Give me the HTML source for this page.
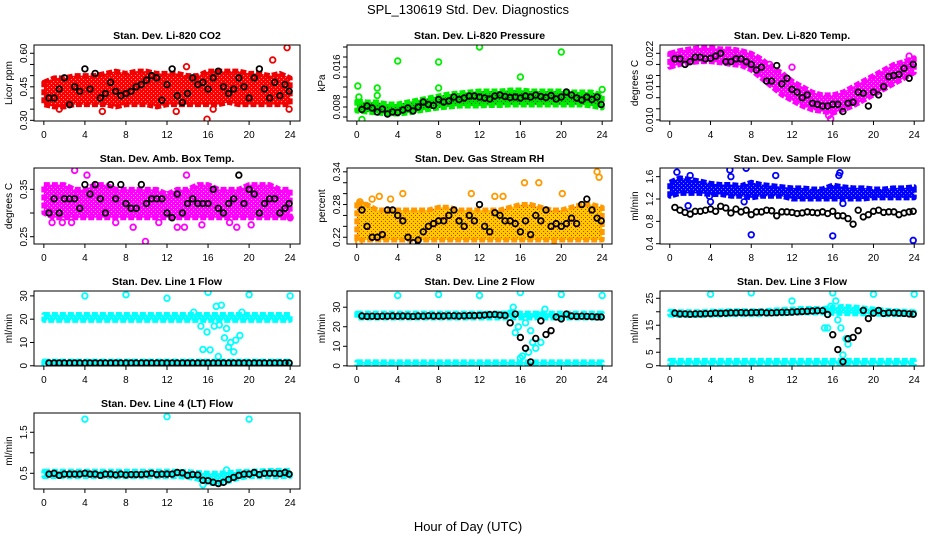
<!DOCTYPE html>
<html><head><meta charset="utf-8"><style>
html,body{margin:0;padding:0;background:#fff;}
svg{display:block;font-family:"Liberation Sans",sans-serif;}
</style></head><body>
<svg id="chart" width="936" height="540" viewBox="0 0 936 540" xmlns="http://www.w3.org/2000/svg">
<text x="468" y="14" text-anchor="middle" font-size="13">SPL_130619  Std. Dev. Diagnostics</text>
<text x="468" y="531" text-anchor="middle" font-size="13">Hour of Day (UTC)</text>
</svg>
<script>
const hours = [0,1,2,3,4,5,6,7,8,9,10,11,12,13,14,15,16,17,18,19,20,21,22,23,24];
const xTicks = [0,4,8,12,16,20,24];
const blackX = [0.5,1,1.5,2,2.5,3,3.5,4,4.5,5,5.5,6,6.5,7,7.5,8,8.5,9,9.5,10,10.5,11,11.5,12,12.5,13,13.5,14,14.5,15,15.5,16,16.5,17,17.5,18,18.5,19,19.5,20,20.5,21,21.5,22,22.5,23,23.5,23.9];

const co2Low = [0.37,0.36,0.36,0.37,0.37,0.37,0.37,0.36,0.37,0.37,0.37,0.36,0.37,0.37,0.37,0.37,0.37,0.37,0.38,0.37,0.37,0.37,0.37,0.37,0.37];
const co2High = [0.47,0.49,0.49,0.50,0.50,0.50,0.51,0.52,0.51,0.52,0.52,0.51,0.51,0.51,0.50,0.50,0.52,0.52,0.52,0.52,0.51,0.51,0.50,0.51,0.49];
const co2OutX = [5.7,12.9,13.9,15.9,22.3,23.7,23.9,1.5,16.5];
const co2OutY = [0.34,0.34,0.54,0.305,0.57,0.625,0.35,0.35,0.35];
const co2Black = [0.40,0.40,0.44,0.49,0.37,0.45,0.43,0.53,0.44,0.51,0.40,0.42,0.47,0.43,0.41,0.42,0.43,0.45,0.46,0.48,0.50,0.49,0.39,0.46,0.53,0.41,0.38,0.42,0.49,0.46,0.47,0.44,0.49,0.52,0.45,0.42,0.44,0.49,0.45,0.40,0.49,0.53,0.44,0.40,0.47,0.41,0.46,0.43];

const presLow = [0.0072,0.0070,0.0068,0.0066,0.0066,0.0068,0.0072,0.0075,0.0078,0.0080,0.0082,0.0082,0.0082,0.0083,0.0083,0.0084,0.0084,0.0084,0.0084,0.0084,0.0084,0.0084,0.0084,0.0082,0.0078];
const presHigh = [0.0092,0.0090,0.0090,0.0086,0.0086,0.0090,0.0094,0.0098,0.0102,0.0106,0.0108,0.0110,0.0112,0.0112,0.0112,0.0114,0.0114,0.0112,0.0112,0.0112,0.0112,0.0110,0.0110,0.0110,0.0104];
const presOutX = [0.1,0.5,2,2,4,8,8,12,16,20,24,0.2];
const presOutY = [0.0122,0.0055,0.0118,0.0103,0.0172,0.0170,0.0118,0.0200,0.0140,0.0190,0.0115,0.0100];
const presBlack = [0.0075,0.0082,0.0078,0.0070,0.0076,0.0066,0.0070,0.0069,0.0074,0.0078,0.0072,0.0080,0.0090,0.0085,0.0083,0.0095,0.0090,0.0092,0.0100,0.0095,0.0098,0.0102,0.0102,0.0100,0.0098,0.0096,0.0102,0.0104,0.0101,0.0099,0.0100,0.0098,0.0102,0.0100,0.0104,0.0101,0.0099,0.0103,0.0096,0.0100,0.0110,0.0104,0.0098,0.0094,0.0100,0.0095,0.0100,0.0085];

const tempLow = [0.0195,0.0200,0.0203,0.0205,0.0205,0.0203,0.0200,0.0198,0.0190,0.0175,0.0160,0.0145,0.0135,0.0125,0.0118,0.0115,0.0112,0.0118,0.0125,0.0135,0.0145,0.0155,0.0165,0.0175,0.0185];
const tempHigh = [0.0220,0.0225,0.0228,0.0230,0.0230,0.0228,0.0228,0.0225,0.0220,0.0210,0.0195,0.0185,0.0170,0.0160,0.0150,0.0145,0.0145,0.0150,0.0160,0.0170,0.0180,0.0190,0.0200,0.0205,0.0212];
const tempOutX = [15.8,15.6,12.0,9.8,23.5,8.0];
const tempOutY = [0.0102,0.0108,0.0195,0.0200,0.0215,0.0198];
const tempBlack = [0.0210,0.0210,0.0200,0.0205,0.0213,0.0213,0.0210,0.0211,0.0215,0.0220,0.0205,0.0205,0.0210,0.0210,0.0205,0.0200,0.0190,0.0195,0.0170,0.0170,0.0198,0.0165,0.0175,0.0155,0.0150,0.0140,0.0145,0.0130,0.0128,0.0125,0.0125,0.0128,0.0128,0.0115,0.0130,0.0132,0.0150,0.0148,0.0125,0.0150,0.0145,0.0160,0.0178,0.0180,0.0182,0.0193,0.0175,0.0200];

const ambLow = [0.30,0.29,0.29,0.29,0.29,0.29,0.29,0.29,0.29,0.29,0.29,0.29,0.29,0.29,0.29,0.29,0.29,0.29,0.29,0.29,0.29,0.29,0.29,0.29,0.29];
const ambHigh = [0.36,0.36,0.36,0.35,0.35,0.36,0.36,0.35,0.35,0.35,0.35,0.35,0.34,0.35,0.35,0.36,0.36,0.35,0.35,0.35,0.36,0.36,0.36,0.35,0.35];
const ambOutX = [0.8,3.0,2.7,1.8,4.2,7.0,9.9,8.7,13.0,13.7,13.9,15.4,18.1,18.8,20.2,11.2,24.0];
const ambOutY = [0.28,0.39,0.28,0.28,0.38,0.28,0.24,0.27,0.27,0.27,0.38,0.275,0.28,0.27,0.275,0.28,0.29];
const ambBlack = [0.30,0.33,0.30,0.33,0.33,0.33,0.31,0.36,0.34,0.36,0.33,0.30,0.36,0.33,0.36,0.32,0.31,0.31,0.36,0.32,0.33,0.33,0.33,0.30,0.29,0.34,0.30,0.32,0.33,0.32,0.32,0.32,0.35,0.31,0.30,0.32,0.33,0.38,0.32,0.35,0.34,0.30,0.32,0.33,0.33,0.30,0.31,0.32];

const rhLow = [0.215,0.215,0.215,0.215,0.215,0.215,0.215,0.215,0.215,0.215,0.215,0.215,0.215,0.215,0.215,0.215,0.215,0.215,0.215,0.215,0.215,0.215,0.215,0.215,0.215];
const rhHigh = [0.285,0.28,0.27,0.27,0.27,0.27,0.27,0.27,0.275,0.275,0.27,0.27,0.27,0.27,0.27,0.275,0.28,0.28,0.275,0.27,0.27,0.275,0.28,0.28,0.275];
const rhOutX = [0.2,0.3,0.5,1.5,2.2,3.3,4.5,11.2,13.5,14.3,16.4,17.8,19.3,20.1,23.5,23.7];
const rhOutY = [0.21,0.285,0.28,0.29,0.295,0.29,0.30,0.30,0.295,0.295,0.32,0.32,0.205,0.30,0.34,0.33];
const rhBlack = [0.27,0.24,0.22,0.22,0.225,0.27,0.27,0.26,0.25,0.22,0.21,0.215,0.23,0.24,0.245,0.25,0.25,0.26,0.27,0.25,0.24,0.26,0.25,0.28,0.24,0.23,0.265,0.26,0.25,0.25,0.245,0.23,0.25,0.225,0.26,0.25,0.27,0.24,0.245,0.24,0.245,0.255,0.245,0.28,0.29,0.27,0.255,0.25];

const flowLow = [1.25,1.30,1.30,1.30,1.28,1.28,1.25,1.25,1.22,1.25,1.25,1.25,1.20,1.20,1.20,1.20,1.20,1.20,1.20,1.20,1.22,1.22,1.22,1.22,1.22];
const flowHigh = [1.50,1.58,1.55,1.52,1.48,1.46,1.46,1.44,1.50,1.46,1.44,1.42,1.40,1.40,1.38,1.38,1.45,1.42,1.40,1.40,1.38,1.38,1.40,1.40,1.42];
const flowOutX = [0.7,2.0,1.8,4,5.9,6.0,7.5,7.3,8.0,10.4,16.0,16.7,16.6,17.0,23.9,3.9];
const flowOutY = [1.68,1.62,1.08,1.15,1.72,1.60,1.75,1.15,0.56,1.62,0.54,1.67,1.62,1.12,0.46,1.25];
const flowBlack = [1.05,1.00,0.96,0.93,0.98,0.98,1.00,1.02,0.98,1.07,1.04,0.95,1.02,0.97,1.00,0.92,0.97,0.97,1.00,0.99,0.90,0.97,0.97,0.96,0.94,0.95,0.97,0.96,0.95,0.97,0.94,0.98,0.90,0.90,0.85,0.75,1.00,0.88,0.92,0.98,1.00,0.96,0.97,0.97,0.92,0.95,0.97,0.98];

const l1UpLow = [19.5,19.5,19.5,19.5,19.5,19.5,19.5,19.5,19.5,19.5,19.5,19.5,19.5,19.5,19.5,19.5,19.5,19.5,19.5,19.5,19.5,19.5,19.5,19.5,19.5];
const l1UpHigh = [22,22,22,22,22,22,22,22,22,22,22,22,22,22,22,22,22,22,22,22,22,22,22,22,22];
const lineBaseLow = [0.5,0.5,0.5,0.5,0.5,0.5,0.5,0.5,0.5,0.5,0.5,0.5,0.5,0.5,0.5,0.5,0.5,0.5,0.5,0.5,0.5,0.5,0.5,0.5,0.5];
const lineBaseHigh = [2,2,2,2,2,2,2,2,2,2,2,2,2,2,2,2,2,2,2,2,2,2,2,2,2];
const l1OutX = [4,8,12,16,20,24,14.6,15.3,15.5,15.9,16.2,16.8,17.3,17.0,17.6,17.8,18.0,18.2,18.5,18.7,19.1,19.3,17.1,16.6];
const l1OutY = [30,30.5,29,31.5,30.5,30,23,17,7,14.5,6.8,25.5,26,4,12,16,8,10,6,11,13,23,17.5,17];
const l1Black = [1.2,1.2,1.2,1.2,1.2,1.2,1.2,1.2,1.2,1.2,1.2,1.2,1.2,1.2,1.2,1.2,1.2,1.2,1.2,1.2,1.2,1.2,1.2,1.2,1.2,1.2,1.2,1.2,1.2,1.2,1.2,1.2,1.2,1.2,1.2,1.2,1.2,1.2,1.2,1.2,1.2,1.2,1.2,1.2,1.2,1.2,1.2,1.2];

const l2UpLow = [24.5,24.5,24.5,24.5,24.5,24.5,24.5,24.5,24.5,24.5,24.5,24.5,24.5,24.5,24.5,24.5,24.5,24.5,24.5,24.5,24.5,24.5,24.5,24.5,24.5];
const l2UpHigh = [27,27,27,27,27,27,27,27,27,27,27,27,27,27,27,27,27,27,27,27,27,27,27,27,27];
const l2OutX = [4,8,12,16,20,24,15,15.5,15.8,16.2,16.5,16.8,17.2,17.5,17.9,18.4,15.3,16.0,17.0,18.0];
const l2OutY = [36,36.5,36,37.5,36.5,36,27,17,20,5,22,7,12,9,26,29,30,4,18,12];
const l2Black = [25.5,25.3,25.4,25.3,25.4,25.4,25.5,25.4,25.5,25.4,25.3,25.5,25.4,25.6,25.5,25.5,25.5,25.6,25.6,25.5,25.6,25.7,25.7,25.8,26.0,26.2,26.3,26.0,25.8,22,26.5,14.5,9,2,14,23,16,18,25,24,26.5,25.5,25.3,25.4,25.3,25.2,25.0,25.0];

const l3UpLow = [18.8,18.6,18.6,18.6,18.8,18.8,19.0,19.0,19.0,19.0,19.2,19.2,19.4,19.6,19.6,19.6,19.4,19.4,19.2,19.2,19.2,19.0,19.0,19.0,18.8];
const l3UpHigh = [20.2,20.0,20.0,20.0,20.2,20.2,20.4,20.4,20.4,20.4,20.6,20.8,21.0,21.2,21.2,21.2,21.6,22.0,21.8,21.4,21.0,20.6,20.4,20.2,20.0];
const l3OutX = [4,8,12,16,20,24,15.8,15.5,16.3,16.5,17.0,17.5,17.3,15.2,16.8];
const l3OutY = [26.5,27,24,27,26.5,26.5,22,14,24,17,4,8,10,14,14];
const l3Black = [19.5,19.2,19.2,19.1,19.2,19.2,19.3,19.3,19.5,19.4,19.5,19.6,19.6,19.7,19.6,19.7,19.7,19.8,19.6,19.6,19.7,19.8,19.8,19.9,20.0,20.1,20.2,20.3,20.4,20.4,19,11.5,6,1.5,10,10.5,13,20.5,17.5,19.5,20.5,19.4,19.6,19.6,19.5,19.4,19.2,19.1];

const l4Low = [0.42,0.42,0.42,0.42,0.42,0.42,0.42,0.42,0.42,0.42,0.42,0.42,0.42,0.42,0.40,0.36,0.26,0.24,0.30,0.38,0.42,0.42,0.42,0.42,0.42];
const l4High = [0.55,0.55,0.55,0.55,0.55,0.55,0.55,0.55,0.55,0.55,0.55,0.55,0.55,0.55,0.54,0.52,0.50,0.50,0.52,0.54,0.55,0.56,0.57,0.57,0.57];
const l4OutX = [4,12,20,15.5,17.8];
const l4OutY = [1.82,1.88,1.82,0.22,0.58];
const l4Black = [0.48,0.50,0.45,0.48,0.48,0.48,0.48,0.50,0.48,0.48,0.45,0.48,0.48,0.46,0.48,0.46,0.47,0.47,0.47,0.48,0.50,0.47,0.48,0.48,0.48,0.52,0.51,0.45,0.47,0.46,0.33,0.32,0.28,0.25,0.28,0.35,0.40,0.45,0.48,0.48,0.52,0.47,0.50,0.50,0.50,0.49,0.52,0.48];

const co2Ticks=[0.30,0.35,0.40,0.45,0.50,0.55,0.60], co2Labels=["0.30","","","0.45","","","0.60"];
const presTicks=[0.006,0.008,0.010,0.012,0.014,0.016,0.018,0.020], presLabels=["","0.008","","","","0.016","",""];
const tempTicks=[0.010,0.012,0.014,0.016,0.018,0.020,0.022], tempLabels=["0.010","","","0.016","","","0.022"];
const ambTicks=[0.25,0.30,0.35], ambLabels=["0.25","","0.35"];
const rhTicks=[0.22,0.24,0.26,0.28,0.30,0.32,0.34], rhLabels=["0.22","","","0.28","","","0.34"];
const flowTicks=[0.4,0.8,1.2,1.6], flowLabels=["0.4","0.8","1.2","1.6"];
const l1Ticks=[0,10,20,30], l1Labels=["0","10","20","30"];
const l2Ticks=[0,10,20,30], l2Labels=["0","10","20","30"];
const l3Ticks=[0,5,10,15,20,25], l3Labels=["0","5","","15","","25"];
const l4Ticks=[0.5,1.0,1.5], l4Labels=["0.5","","1.5"];

const C1=[34,300], C2=[347,612], C3=[660,924];
const R1=[45,121], R2=[168,244], R3=[291,366], R4=[413,489];
const panels = [
 {id:'co2',title:'Stan. Dev. Li-820 CO2',ylab:'Licor ppm',c:C1,r:R1,ymin:0.297,ymax:0.637,ticks:co2Ticks,labels:co2Labels,fill:'#ff0000',dot:'#ff9090',edge:'#ee0000',bands:[[co2Low,co2High]],ox:co2OutX,oy:co2OutY,by:co2Black},
 {id:'pressure',title:'Stan. Dev. Li-820 Pressure',ylab:'kPa',c:C2,r:R1,ymin:0.0052,ymax:0.0204,ticks:presTicks,labels:presLabels,fill:'#00dd00',dot:'#006600',edge:'#00ee00',bands:[[presLow,presHigh]],ox:presOutX,oy:presOutY,by:presBlack},
 {id:'temp',title:'Stan. Dev. Li-820 Temp.',ylab:'degrees C',c:C3,r:R1,ymin:0.0098,ymax:0.0235,ticks:tempTicks,labels:tempLabels,fill:'#ff00ff',dot:'#ffa0ff',edge:'#ff00ff',bands:[[tempLow,tempHigh]],ox:tempOutX,oy:tempOutY,by:tempBlack},
 {id:'amb-box',title:'Stan. Dev. Amb. Box Temp.',ylab:'degrees C',c:C1,r:R2,ymin:0.2346,ymax:0.395,ticks:ambTicks,labels:ambLabels,fill:'#ff00ff',dot:'#ffa0ff',edge:'#ff00ff',bands:[[ambLow,ambHigh]],ox:ambOutX,oy:ambOutY,by:ambBlack},
 {id:'rh',title:'Stan. Dev. Gas Stream RH',ylab:'percent',c:C2,r:R2,ymin:0.2076,ymax:0.347,ticks:rhTicks,labels:rhLabels,fill:'#ffcc00',dot:'#ff2000',edge:'#ff9900',bands:[[rhLow,rhHigh]],ox:rhOutX,oy:rhOutY,by:rhBlack},
 {id:'sample-flow',title:'Stan. Dev. Sample Flow',ylab:'ml/min',c:C3,r:R2,ymin:0.395,ymax:1.755,ticks:flowTicks,labels:flowLabels,fill:'#0000ff',dot:'#8080ff',edge:'#0000ff',bands:[[flowLow,flowHigh]],ox:flowOutX,oy:flowOutY,by:flowBlack},
 {id:'line1',title:'Stan. Dev. Line 1 Flow',ylab:'ml/min',c:C1,r:R3,ymin:-0.1,ymax:32.1,ticks:l1Ticks,labels:l1Labels,fill:'#00ffff',dot:'#a0ffff',edge:'#00ffff',bands:[[l1UpLow,l1UpHigh],[lineBaseLow,lineBaseHigh]],ox:l1OutX,oy:l1OutY,by:l1Black},
 {id:'line2',title:'Stan. Dev. Line 2 Flow',ylab:'ml/min',c:C2,r:R3,ymin:-0.1,ymax:38.3,ticks:l2Ticks,labels:l2Labels,fill:'#00ffff',dot:'#a0ffff',edge:'#00ffff',bands:[[l2UpLow,l2UpHigh],[lineBaseLow,lineBaseHigh]],ox:l2OutX,oy:l2OutY,by:l2Black},
 {id:'line3',title:'Stan. Dev. Line 3 Flow',ylab:'ml/min',c:C3,r:R3,ymin:-0.1,ymax:27.7,ticks:l3Ticks,labels:l3Labels,fill:'#00ffff',dot:'#a0ffff',edge:'#00ffff',bands:[[l3UpLow,l3UpHigh],[lineBaseLow,lineBaseHigh]],ox:l3OutX,oy:l3OutY,by:l3Black},
 {id:'line4',title:'Stan. Dev. Line 4 (LT) Flow',ylab:'ml/min',c:C1,r:R4,ymin:0.117,ymax:1.97,ticks:l4Ticks,labels:l4Labels,fill:'#00ffff',dot:'#a0ffff',edge:'#00ffff',bands:[[l4Low,l4High]],ox:l4OutX,oy:l4OutY,by:l4Black}
];
const NS='http://www.w3.org/2000/svg';
const svg=document.getElementById('chart');
function mk(tag,attrs,parent){const e=document.createElementNS(NS,tag);for(const k in attrs)e.setAttribute(k,attrs[k]);parent.appendChild(e);return e;}
const defs=mk('defs',{},svg);
panels.forEach(p=>{
 const x0=p.c[0],x1=p.c[1],y0=p.r[0],y1=p.r[1];
 const sx=v=>x0+(v+0.96)/25.92*(x1-x0);
 const sy=v=>y1-(v-p.ymin)/(p.ymax-p.ymin)*(y1-y0);
 const pat=mk('pattern',{id:'pat-'+p.id,width:4,height:4,patternUnits:'userSpaceOnUse'},defs);
 mk('rect',{x:0,y:0,width:4,height:4,fill:p.fill},pat);
 mk('rect',{x:1,y:1,width:1,height:1,fill:p.dot},pat);
 mk('rect',{x:3,y:3,width:1,height:1,fill:p.dot},pat);
 const g=mk('g',{},svg);
 
 
 const clipId='clip-'+p.id;
 const cp=mk('clipPath',{id:clipId},g);
 mk('rect',{x:x0,y:y0,width:x1-x0,height:y1-y0},cp);
 const t=mk('text',{x:(x0+x1)/2,y:y0-6,'text-anchor':'middle','font-size':'10.5','font-weight':'bold'},g);
 t.textContent=p.title;
 
 
 const yl=mk('text',{x:0,y:0,'text-anchor':'middle','font-size':'10',transform:`translate(${x0-22},${(y0+y1)/2}) rotate(-90)`},g);
 yl.textContent=p.ylab;
 
 
 const plot=mk('g',{'clip-path':`url(#${clipId})`},g);
 
 
 p.bands.forEach(b=>{
  const lo=b[0],hi=b[1];let pts=[];
  hours.forEach((h,i)=>pts.push(sx(h)+','+sy(hi[i])));
  for(let i=hours.length-1;i>=0;i--)pts.push(sx(hours[i])+','+sy(lo[i]));
  const poly=mk('polygon',{points:pts.join(' '),fill:`url(#pat-${p.id})`,stroke:p.edge,'stroke-width':5,'stroke-linejoin':'round','stroke-dasharray':'6 2'},plot);
  
  
 });
 p.ox.forEach((v,i)=>{
  const c=mk('circle',{cx:sx(v),cy:sy(p.oy[i]),r:2.8,fill:'none',stroke:p.edge,'stroke-width':1.8},plot);
  
  
 });
 blackX.forEach((v,i)=>{
  const c=mk('circle',{cx:sx(v),cy:sy(p.by[i]),r:2.8,fill:'none',stroke:'#000','stroke-width':1.8},plot);
  
  
 });
 const box=mk('rect',{x:x0,y:y0,width:x1-x0,height:y1-y0,fill:'none',stroke:'#000','stroke-width':1},g);
 
 
 xTicks.forEach(v=>{
  mk('line',{x1:sx(v),x2:sx(v),y1:y1,y2:y1+4,stroke:'#000'},g);
  const tl=mk('text',{x:sx(v),y:y1+17,'text-anchor':'middle','font-size':'10'},g);
  tl.textContent=v;
  
  
 });
 p.ticks.forEach((v,i)=>{
  mk('line',{x1:x0-4,x2:x0,y1:sy(v),y2:sy(v),stroke:'#000'},g);
  if(p.labels[i]){
   const tl=mk('text',{x:0,y:0,'text-anchor':'middle','font-size':'10',transform:`translate(${x0-7},${sy(v)}) rotate(-90)`},g);
   tl.textContent=p.labels[i];
   
   
  }
 });
});
</script>
</body></html>
